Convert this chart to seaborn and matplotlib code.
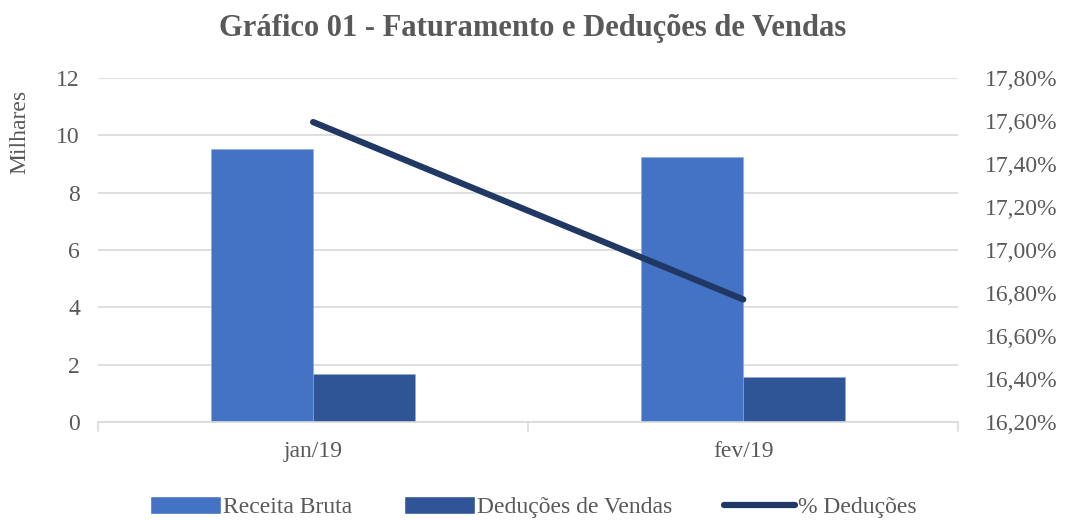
import matplotlib
matplotlib.use('Agg')
import matplotlib.pyplot as plt
import seaborn as sns
import pandas as pd
import numpy as np
from matplotlib.ticker import FuncFormatter
from matplotlib.patches import Patch
from matplotlib.lines import Line2D

# dados
meses = ['jan/19', 'fev/19']
receita_bruta = [9.52, 9.26]      # milhares
deducoes_vendas = [1.67, 1.56]    # milhares
pct_deducoes = [17.595, 16.77]    # %

series = ['Receita Bruta', 'Deduções de Vendas']
cores = {'Receita Bruta': '#4472C4', 'Deduções de Vendas': '#2F5597'}
cor_linha = '#203864'
cinza = '#595959'

sns.set_style('white')
plt.rcParams['font.family'] = ['Liberation Serif', 'DejaVu Serif']

df = pd.DataFrame({
    'mes': meses * 2,
    'serie': [series[0]] * len(meses) + [series[1]] * len(meses),
    'valor': receita_bruta + deducoes_vendas,
})

fig = plt.figure(figsize=(10.66, 5.2), dpi=100)
ax = fig.add_axes([0.092, 0.1885, 0.807, 0.6615])

sns.barplot(data=df, x='mes', y='valor', hue='serie', palette=cores,
            saturation=1, width=0.475, gap=0, ax=ax, legend=False,
            edgecolor='#8FAADC', linewidth=0.4)

ax.set_xlim(-0.5, len(meses) - 0.5)
ax.set_ylim(0, 12)
ax.set_yticks(range(0, 13, 2))
ax.yaxis.grid(True, color='#D9D9D9', linewidth=1.2)
ax.set_axisbelow(True)
for s in ['top', 'right', 'left']:
    ax.spines[s].set_visible(False)
ax.spines['bottom'].set_color('#D9D9D9')
ax.spines['bottom'].set_linewidth(1.2)
ax.set_xlabel('')
ax.set_ylabel('')
ax.tick_params(axis='y', length=0, labelsize=17, labelcolor=cinza, pad=13)
ax.tick_params(axis='x', length=0, labelsize=17, labelcolor=cinza, pad=14)
# marcas entre categorias
for xb in np.arange(-0.5, len(meses), 1.0):
    ax.plot([xb, xb], [0, -0.3], color='#D9D9D9', lw=1.2, clip_on=False)

ax2 = ax.twinx()
sns.lineplot(x=np.arange(len(meses)), y=pct_deducoes, ax=ax2,
             color=cor_linha, linewidth=4.5, solid_capstyle='round')
ax2.set_ylim(16.2, 17.8)
ax2.set_yticks(np.arange(16.2, 17.81, 0.2))
ax2.yaxis.set_major_formatter(FuncFormatter(lambda v, p: f'{v:.2f}%'.replace('.', ',')))
for s in ax2.spines.values():
    s.set_visible(False)
ax2.tick_params(axis='y', length=0, labelsize=17, labelcolor=cinza, pad=19)

fig.text(0.5, 0.945, 'Gráfico 01 - Faturamento e Deduções de Vendas',
         ha='center', va='center', fontsize=22, fontweight='bold', color=cinza)
fig.text(0.019, 1 - 132 / 520, 'Milhares', rotation=90, ha='center', va='center',
         fontsize=17, color=cinza)

handles = [Patch(facecolor=cores[series[0]], label=series[0]),
           Patch(facecolor=cores[series[1]], label=series[1]),
           Line2D([0], [0], color=cor_linha, lw=4.5, solid_capstyle='round', label='% Deduções')]
leg = fig.legend(handles=handles, loc='center', bbox_to_anchor=(0.5, 0.025), ncol=3,
                 frameon=False, fontsize=17, handlelength=3.0, handleheight=0.8,
                 handletextpad=0.1, columnspacing=2.2)
for t in leg.get_texts():
    t.set_color(cinza)

fig.savefig('out.png', dpi=100)
